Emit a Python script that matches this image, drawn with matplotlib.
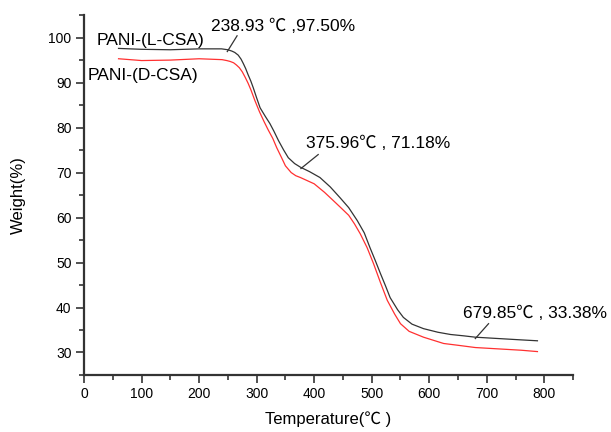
import matplotlib
matplotlib.use("Agg")
import matplotlib.pyplot as plt
from matplotlib.ticker import MultipleLocator

plt.rcParams['font.family'] = ['Liberation Sans', 'Noto Sans CJK SC', 'DejaVu Sans']

# PANI-(L-CSA) (black)
temp_l = [60, 100, 150, 200, 239, 250, 257, 262, 268, 273, 277, 281, 285, 290, 294, 300, 306, 315, 323, 330, 338, 347, 355, 366, 376,
          392, 410, 428, 445, 460, 475, 487, 497, 506, 515, 524, 532, 545, 555, 570, 590, 615, 637, 660, 680, 720, 760, 788]
weight_l = [97.6, 97.4, 97.3, 97.5, 97.5, 97.3, 97.0, 96.7, 96.1, 95.2, 94.2, 93.1, 91.8, 90.3, 88.9, 86.6, 84.4, 82.5, 80.9, 79.2, 77.1, 75.0, 73.3, 72.0, 71.2,
            70.2, 68.9, 66.8, 64.4, 62.2, 59.3, 56.6, 53.3, 50.5, 47.6, 44.8, 42.2, 39.5, 37.8, 36.3, 35.3, 34.5, 34.0, 33.7, 33.4, 33.1, 32.8, 32.6]

# PANI-(D-CSA) (red)
temp_d = [60, 100, 150, 200, 240, 248, 254, 260, 265, 270, 275, 280, 285, 290, 297, 305, 313, 320, 328, 335, 343, 350, 360, 368, 376,
          400, 418, 433, 447, 460, 470, 480, 492, 503, 515, 527, 540, 550, 565, 590, 625, 650, 680, 720, 760, 788]
weight_d = [95.3, 94.9, 95.0, 95.3, 95.1, 94.9, 94.7, 94.4, 93.9, 93.3, 92.4, 91.2, 89.9, 88.4, 86.0, 83.5, 81.3, 79.5, 77.6, 75.5, 73.4, 71.5, 70.0, 69.3, 68.9,
            67.5, 65.6, 63.8, 62.1, 60.5, 58.6, 56.4, 53.3, 49.8, 45.6, 41.6, 38.5, 36.4, 34.7, 33.4, 32.0, 31.6, 31.1, 30.8, 30.5, 30.2]

fig = plt.figure(figsize=(6.11, 4.32), dpi=100)
ax = fig.add_axes([0.1375, 0.132, 0.8005, 0.833])

ax.plot(temp_l, weight_l, color='#333333', lw=0.9)
ax.plot(temp_d, weight_d, color='#ff3030', lw=0.9)

ax.set_xlim(0, 850)
ax.set_ylim(25, 105)
ax.xaxis.set_major_locator(MultipleLocator(100))
ax.xaxis.set_minor_locator(MultipleLocator(50))
ax.yaxis.set_major_locator(MultipleLocator(10))
ax.yaxis.set_minor_locator(MultipleLocator(5))
ax.set_xticks(range(0, 900, 100))
ax.set_xticklabels([str(v) for v in range(0, 900, 100)])
ax.set_yticks(range(30, 110, 10))
ax.set_yticklabels([str(v) for v in range(30, 110, 10)])

for s in ['top', 'right']:
    ax.spines[s].set_visible(False)
for s in ['left', 'bottom']:
    ax.spines[s].set_linewidth(1.6)
    ax.spines[s].set_color('#333333')
ax.tick_params(which='major', direction='out', length=6, width=1.2, labelsize=10, color='#333333', pad=3)
ax.tick_params(which='minor', direction='out', length=3.5, width=1.2, color='#333333')

ax.set_xlabel('Temperature(℃ )', fontsize=12, labelpad=7)
ax.set_ylabel('Weight(%)', fontsize=12, labelpad=16)

ax.text(22.6, 99.3, 'PANI-(L-CSA)', fontsize=12.5, va='center', ha='left')
ax.text(7, 91.6, 'PANI-(D-CSA)', fontsize=12.5, va='center', ha='left')

ax.text(221, 102.4, '238.93 ℃ ,97.50%', fontsize=12.5, va='center', ha='left')
ax.plot([266, 249], [100.4, 96.9], color='#333333', lw=0.9)
ax.text(386, 76.4, '375.96℃ , 71.18%', fontsize=12.5, va='center', ha='left')
ax.plot([407, 377], [74.0, 70.9], color='#333333', lw=0.9)
ax.text(659, 38.7, '679.85℃ , 33.38%', fontsize=12.5, va='center', ha='left')
ax.plot([703, 680], [36.4, 33.1], color='#333333', lw=0.9)

fig.savefig('out.png', dpi=100)
